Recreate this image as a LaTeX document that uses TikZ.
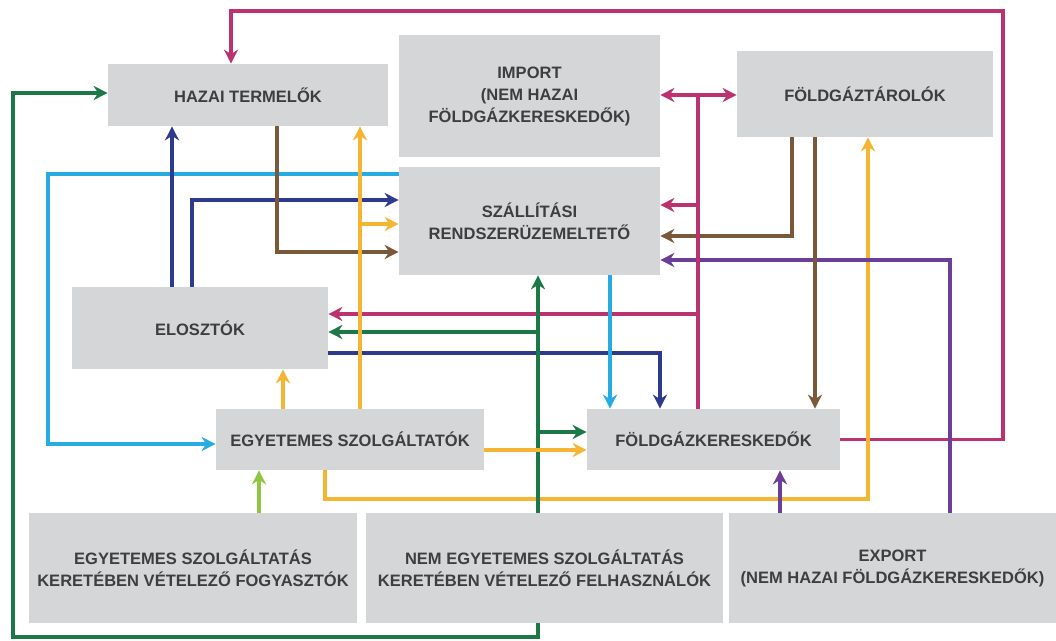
\documentclass[tikz,border=0pt]{standalone}
\usepackage{fontspec}
\setmainfont{Liberation Sans}
\usetikzlibrary{arrows.meta}
\definecolor{boxgray}{HTML}{D5D6D8}
\definecolor{boxtext}{HTML}{3E3E40}
\definecolor{cmag}{HTML}{BC3270}
\definecolor{cbrn}{HTML}{7A583A}
\definecolor{cyel}{HTML}{F6B433}
\definecolor{ccya}{HTML}{25ACE3}
\definecolor{cdbl}{HTML}{2D3A8E}
\definecolor{cdgr}{HTML}{1C7846}
\definecolor{clgr}{HTML}{8DC63F}
\definecolor{cpur}{HTML}{6B3F98}

\begin{document}
\begin{tikzpicture}[x=0.02cm,y=-0.02cm,line join=miter,>={Stealth[length=8pt,width=8pt,inset=2.6pt]},
  actor/.style={fill=boxgray,inner sep=0pt,align=center,text=boxtext,font=\bfseries\fontsize{9.4}{12.5}\selectfont},
  flow/.style={line width=2.2pt,->}]
  \useasboundingbox (0,0) rectangle (1056,641);
  \node[actor,minimum width=5.6cm,minimum height=1.24cm] (hazai) at (248,95) {HAZAI TERMELŐK};
  \node[actor,minimum width=5.22cm,minimum height=2.44cm] (import) at (529.5,96) {IMPORT\\(NEM HAZAI\\FÖLDGÁZKERESKEDŐK)};
  \node[actor,minimum width=5.12cm,minimum height=1.72cm] (tarolo) at (865,94) {FÖLDGÁZTÁROLÓK};
  \node[actor,minimum width=5.22cm,minimum height=2.16cm] (szall) at (529.5,221) {SZÁLLÍTÁSI\\RENDSZERÜZEMELTETŐ};
  \node[actor,minimum width=5.12cm,minimum height=1.64cm] (eloszto) at (200,328) {ELOSZTÓK};
  \node[actor,minimum width=5.36cm,minimum height=1.22cm] (egyszolg) at (350,439.5) {EGYETEMES SZOLGÁLTATÓK};
  \node[actor,minimum width=5.06cm,minimum height=1.22cm] (keresk) at (713.5,439.5) {FÖLDGÁZKERESKEDŐK};
  \node[actor,minimum width=6.56cm,minimum height=2.2cm] (fogy) at (193,568) {EGYETEMES SZOLGÁLTATÁS\\KERETÉBEN VÉTELEZŐ FOGYASZTÓK};
  \node[actor,minimum width=7.14cm,minimum height=2.2cm] (felh) at (544.5,568) {NEM EGYETEMES SZOLGÁLTATÁS\\KERETÉBEN VÉTELEZŐ FELHASZNÁLÓK};
  \node[actor,minimum width=6.54cm,minimum height=2.2cm] (export) at (892.5,568) {EXPORT\\(NEM HAZAI FÖLDGÁZKERESKEDŐK)};

  \coordinate (mtop) at (698,95);
  \coordinate (ytop) at (360,224);
  \coordinate (gmid) at (538,332);

  \draw[flow,cdgr] (felh.south -| gmid) -- (538,637) -| (13,93) -- (hazai.west |- 0,93);
  \draw[flow,cmag] (keresk.east) -| (1003,11) -| ([xshift=-0.34cm]hazai.north);
  \draw[flow,cyel] (egyszolg.south -| 325,0) |- (868,499) -- (tarolo.south -| 868,0);
  \draw[flow,cpur] (export.north -| 950,0) |- (szall.east |- 0,260);
  \draw[flow,cpur] (export.north -| 780,0) -- (keresk.south -| 780,0);
  \draw[flow,cbrn] (tarolo.south -| 815,0) -- (keresk.north -| 815,0);
  \draw[flow,cbrn] (tarolo.south -| 792,0) |- (szall.east |- 0,236);
  \draw[flow,cmag] (mtop |- keresk.north) -- (mtop) -- (import.east |- mtop);
  \draw[flow,cmag] (mtop) -- (tarolo.west |- mtop);
  \draw[flow,cmag] (mtop |- 0,205) -- (szall.east |- 0,205);
  \draw[flow,cmag] (mtop |- 0,314) -- (eloszto.east |- 0,314);
  \draw[flow,cdbl] (eloszto.east |- 0,353) -| (keresk.north -| 660,0);
  \draw[flow,ccya] (szall.south -| 610,0) -- (keresk.north -| 610,0);
  \draw[flow,cdgr] (felh.north -| gmid) -- (szall.south -| gmid);
  \draw[flow,cdgr] (gmid) -- (eloszto.east |- gmid);
  \draw[flow,cdgr] (gmid |- 0,432) -- (keresk.west |- 0,432);
  \draw[flow,cyel] (egyszolg.east |- 0,450) -- (keresk.west |- 0,450);
  \draw[flow,ccya] (szall.west |- 0,174) -| (48,444) -- (egyszolg.west |- 0,444);
  \draw[flow,cdbl] (eloszto.north -| 172,0) -- (hazai.south -| 172,0);
  \draw[flow,cdbl] (eloszto.north -| 192,0) |- (szall.west |- 0,200);
  \draw[flow,cbrn] (hazai.south -| 277,0) |- (szall.west |- 0,252);
  \draw[flow,cyel] (egyszolg.north -| ytop) -- (hazai.south -| ytop);
  \draw[flow,cyel] (ytop) -- (szall.west |- ytop);
  \draw[flow,cyel] (egyszolg.north -| 283,0) -- (eloszto.south -| 283,0);
  \draw[flow,clgr] (fogy.north -| 259,0) -- (egyszolg.south -| 259,0);
\end{tikzpicture}
\end{document}
